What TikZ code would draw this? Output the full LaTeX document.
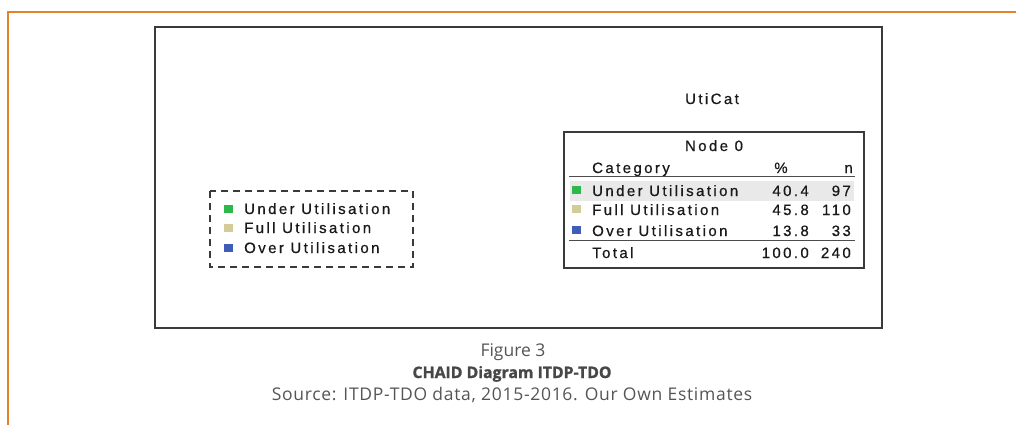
\documentclass[tikz,border=0pt]{standalone}
\usepackage{fontspec}
\newfontfamily\spss[LetterSpace=16,FakeBold=0.6]{Liberation Sans}
\newfontfamily\capfont{Open Sans}
\newfontfamily\capbold[FakeBold=1.2]{Open Sans Bold}
\newfontfamily\capsrc[LetterSpace=4]{Open Sans}
\definecolor{frameorange}{HTML}{E3822B}
\definecolor{boxline}{HTML}{3A3A3A}
\definecolor{rowgray}{HTML}{E9E9E9}
\definecolor{catgreen}{HTML}{2DB84B}
\definecolor{catkhaki}{HTML}{D3CC98}
\definecolor{catblue}{HTML}{3F5CB8}
\definecolor{captext}{HTML}{555555}
\tikzset{
  tabtxt/.style={inner sep=0pt, font=\spss\fontsize{15}{18}\selectfont, text=black!90},
  captxt/.style={inner sep=0pt, font=\capfont\fontsize{17.5}{20}\selectfont, text=captext},
  frameline/.style={draw=boxline, line width=1.5pt},
  rule/.style={draw=black!70, line width=1.3pt},
  catsq/.style={minimum width=9pt, minimum height=8pt, inner sep=0pt, draw=none}
}
\begin{document}
\begin{tikzpicture}[x=1pt,y=-1pt]
\useasboundingbox (0,0) rectangle (1016,424);
% page frame
\draw[frameorange, line width=1.6pt] (8,425) -- (8,12) -- (1017,12);
% diagram panel
\draw[frameline] (155,27) rectangle (882,328);
% dependent variable title
\node[tabtxt, anchor=base] (title) at (712,104) {UtiCat};
% node table
\fill[rowgray] (570,181) rectangle (854,201);
\draw[frameline, line width=1.4pt] (564,132) rectangle (864,268);
\node[tabtxt, anchor=base] (nodezero) at (714,151) {Node 0};
\node[tabtxt, anchor=base west] (hcat) at (592,173) {Category};
\node[tabtxt, anchor=base] (hpct) at (781,173) {\%};
\node[tabtxt, anchor=base east] (hn) at (853,173) {n};
\draw[rule] (569,176.5) -- (855,176.5);
\node[catsq, fill=catgreen] (sqa) at (576,190) {};
\node[catsq, fill=catkhaki] (sqb) at (576,209) {};
\node[catsq, fill=catblue] (sqc) at (576,230) {};
\node[tabtxt, anchor=base west] (ra) at (592,196) {Under Utilisation};
\node[tabtxt, anchor=base west] (rb) at (592,215) {Full Utilisation};
\node[tabtxt, anchor=base west] (rc) at (592,236) {Over Utilisation};
\node[tabtxt, anchor=base east] (pa) at (809,196) {40.4};
\node[tabtxt, anchor=base east] (pb) at (809,215) {45.8};
\node[tabtxt, anchor=base east] (pc) at (809,236) {13.8};
\node[tabtxt, anchor=base east] (na) at (851,196) {97};
\node[tabtxt, anchor=base east] (nb) at (851,215) {110};
\node[tabtxt, anchor=base east] (nc) at (851,236) {33};
\draw[rule, line width=1.8pt] (569,240.5) -- (855,240.5);
\node[tabtxt, anchor=base west] (tot) at (592,258) {Total};
\node[tabtxt, anchor=base east] (ptot) at (809,258) {100.0};
\node[tabtxt, anchor=base east] (ntot) at (851,258) {240};
% legend
\draw[boxline, line width=1.4pt, dash pattern=on 7pt off 5pt] (210,191) rectangle (413,267);
\node[catsq, fill=catgreen] (lga) at (228,209) {};
\node[catsq, fill=catkhaki] (lgb) at (228,228) {};
\node[catsq, fill=catblue] (lgc) at (228,248) {};
\node[tabtxt, anchor=base west] (lta) at (244,214) {Under Utilisation};
\node[tabtxt, anchor=base west] (ltb) at (244,233) {Full Utilisation};
\node[tabtxt, anchor=base west] (ltc) at (244,253) {Over Utilisation};
% caption
\node[captxt, anchor=base] (fig) at (513,356) {Figure 3};
\node[captxt, anchor=base, font=\capbold\fontsize{15.8}{20}\selectfont, text=black!72] (figtitle) at (512,378) {CHAID Diagram ITDP-TDO};
\node[captxt, anchor=base, font=\capsrc\fontsize{17.5}{20}\selectfont] (src) at (512,400) {Source: ITDP-TDO data, 2015-2016. Our Own Estimates};
\end{tikzpicture}
\end{document}
